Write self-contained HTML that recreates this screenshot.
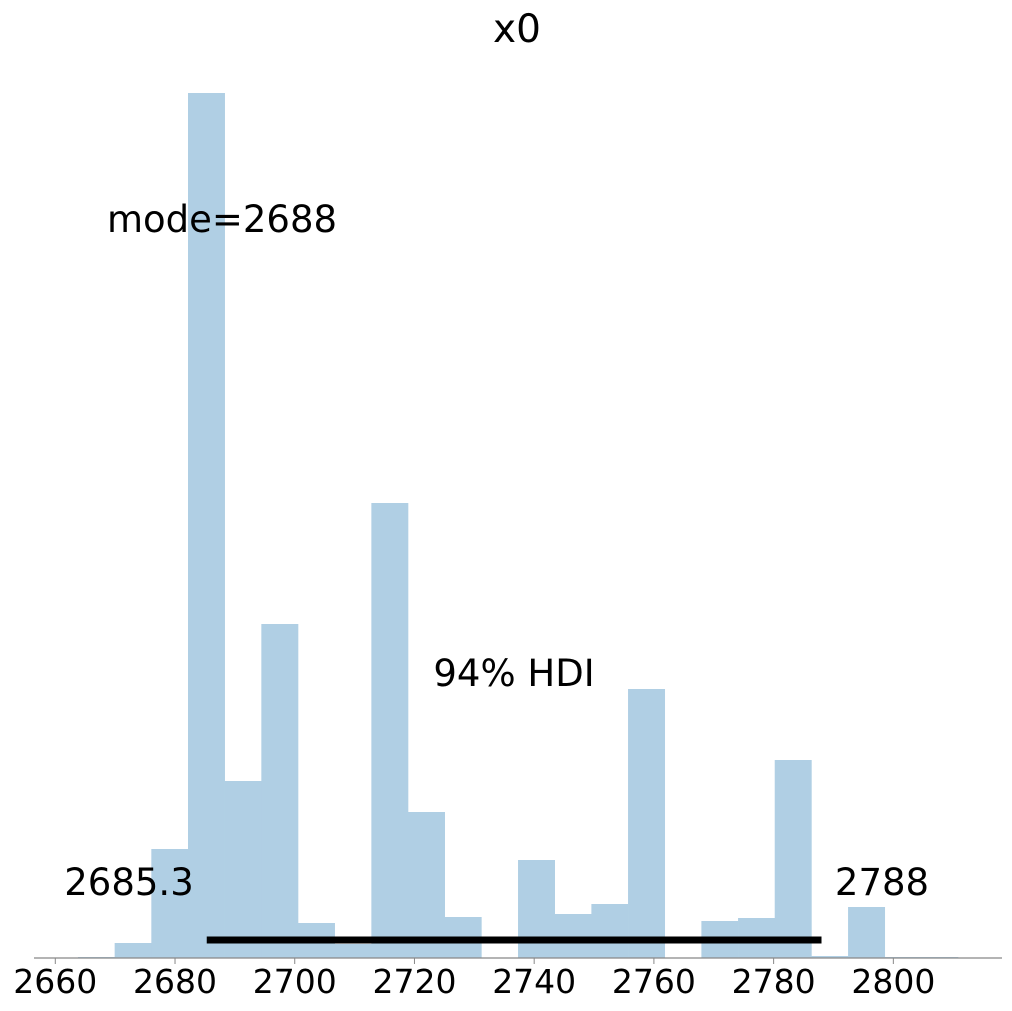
<!DOCTYPE html>
<html><head><meta charset="utf-8"><style>
html,body{margin:0;padding:0;background:#fff}
svg{display:block;font-family:"DejaVu Sans","Liberation Sans",sans-serif}
</style></head><body>
<svg id="chart" width="1012" height="1011">
<text x="517" y="42" font-size="39" text-anchor="middle">x0</text>
<g id="bars"></g>
<line x1="34" y1="958" x2="1002" y2="958" stroke="#888" stroke-width="1.2"/>
<g id="ticks"></g>
<line id="hdi" y1="940" y2="940" stroke="#000" stroke-width="7"/>
<text id="hdiLo" y="895" font-size="37" text-anchor="middle"></text>
<text id="hdiHi" y="895" font-size="37" text-anchor="middle"></text>
<text x="514" y="686" font-size="37" text-anchor="middle">94% HDI</text>
<text id="modeLbl" x="222" y="232" font-size="37" text-anchor="middle"></text>
</svg>
<script>
const binStart = 2663.79;
const binWidth = 6.126;
const counts = [1,15,109,865,177,334,35,14,455,146,41,0,98,44,54,269,0,37,40,198,2,51,1,1];
const tickValues = [2660,2680,2700,2720,2740,2760,2780,2800];
const hdiLow = 2685.3, hdiHigh = 2788, modeVal = 2688;

const NS="http://www.w3.org/2000/svg";
const xs = v => 55.3 + (v-2660)*5.986;
const maxC = Math.max(...counts);
const ys = c => 958 - c*(865/maxC);
const bars=document.getElementById('bars');
counts.forEach((c,i)=>{
  const r=document.createElementNS(NS,'rect');
  const x0=xs(binStart+i*binWidth), x1=xs(binStart+(i+1)*binWidth);
  r.setAttribute('x',x0);r.setAttribute('width',x1-x0+0.3);
  r.setAttribute('y',ys(c));r.setAttribute('height',958-ys(c));
  r.setAttribute('fill','#b0cfe4');
  
  
  bars.appendChild(r);
});
const tg=document.getElementById('ticks');
tickValues.forEach(v=>{
  const l=document.createElementNS(NS,'line');
  l.setAttribute('x1',xs(v));l.setAttribute('x2',xs(v));
  l.setAttribute('y1',958);l.setAttribute('y2',964);l.setAttribute('stroke','#888');
  
  
  tg.appendChild(l);
  const t=document.createElementNS(NS,'text');
  t.setAttribute('x',xs(v));t.setAttribute('y',993);
  t.setAttribute('font-size','33');t.setAttribute('text-anchor','middle');
  t.textContent=v;
  
  
  tg.appendChild(t);
});
const h=document.getElementById('hdi');
h.setAttribute('x1',xs(hdiLow));h.setAttribute('x2',xs(hdiHigh));
const lo=document.getElementById('hdiLo');lo.setAttribute('x',129);lo.textContent=hdiLow.toFixed(1);
const hi=document.getElementById('hdiHi');hi.setAttribute('x',882);hi.textContent=hdiHigh;
document.getElementById('modeLbl').textContent='mode='+modeVal;
</script>
</body></html>
